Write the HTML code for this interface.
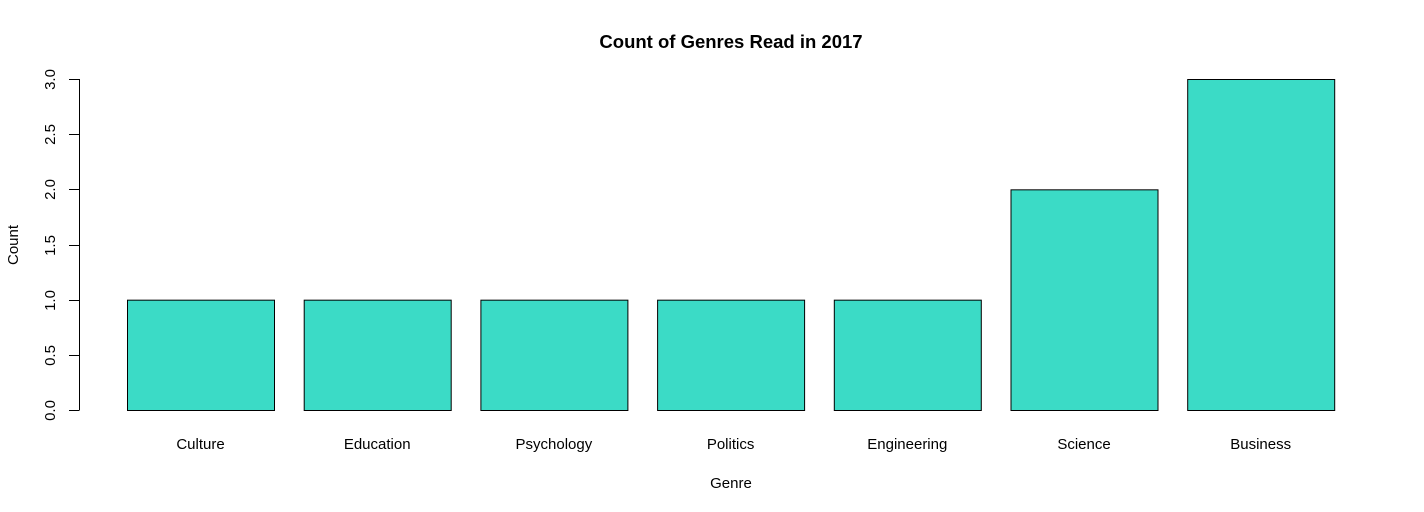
<!DOCTYPE html>
<html><head><meta charset="utf-8"><style>
html,body{margin:0;padding:0;background:#fff;}
svg{display:block;font-family:"Liberation Sans",Arial,sans-serif;}
</style></head><body>
<svg id="chart" width="1424" height="512" xmlns="http://www.w3.org/2000/svg">
<text x="731" y="48" text-anchor="middle" font-size="18.5" font-weight="bold">Count of Genres Read in 2017</text>
<text x="731" y="488" text-anchor="middle" font-size="15">Genre</text>
<text transform="translate(18,245) rotate(-90)" text-anchor="middle" font-size="15">Count</text>
<g id="bars"></g><g id="yaxis"></g><g id="xlabels"></g>
</svg>
<script>
const categories = ["Culture","Education","Psychology","Politics","Engineering","Science","Business"];
const counts = [1,1,1,1,1,2,3];
const yTicks = [0,0.5,1,1.5,2,2.5,3];
const yTickLabels = ["0.0","0.5","1.0","1.5","2.0","2.5","3.0"];
const NS="http://www.w3.org/2000/svg";
const y0=410, yPerUnit=(410-79)/3;
function yScale(v){return y0 - v*yPerUnit;}
function xScale(i){return 127 + i*176.7;}
const barW=147;
const bars=document.getElementById('bars');
counts.forEach((v,i)=>{
  const r=document.createElementNS(NS,'rect');
  r.setAttribute('x',xScale(i)+0.5);r.setAttribute('y',yScale(v)+0.5);
  r.setAttribute('width',barW);r.setAttribute('height',yScale(0)-yScale(v));
  r.setAttribute('fill','#3bdbc6');r.setAttribute('stroke','#000');r.setAttribute('stroke-width','1');
  
  
  bars.appendChild(r);
});
const xl=document.getElementById('xlabels');
categories.forEach((c,i)=>{
  const t=document.createElementNS(NS,'text');
  t.setAttribute('x',xScale(i)+barW/2);t.setAttribute('y',449);
  t.setAttribute('text-anchor','middle');t.setAttribute('font-size','15');
  t.textContent=c;
  
  
  xl.appendChild(t);
});
const ya=document.getElementById('yaxis');
const ax=document.createElementNS(NS,'line');
ax.setAttribute('x1',79.5);ax.setAttribute('x2',79.5);ax.setAttribute('y1',yScale(yTicks[0]));ax.setAttribute('y2',yScale(yTicks[yTicks.length-1]));
ax.setAttribute('stroke','#000');


ya.appendChild(ax);
yTicks.forEach((v,i)=>{
  const y=Math.round(yScale(v))+0.5;
  const l=document.createElementNS(NS,'line');
  l.setAttribute('x1',69);l.setAttribute('x2',79.5);l.setAttribute('y1',y);l.setAttribute('y2',y);l.setAttribute('stroke','#000');
  
  
  ya.appendChild(l);
  const t=document.createElementNS(NS,'text');
  t.setAttribute('transform','translate(55,'+y+') rotate(-90)');
  t.setAttribute('text-anchor','middle');t.setAttribute('font-size','15');
  t.textContent=yTickLabels[i];
  
  
  ya.appendChild(t);
});
</script>
</body></html>
